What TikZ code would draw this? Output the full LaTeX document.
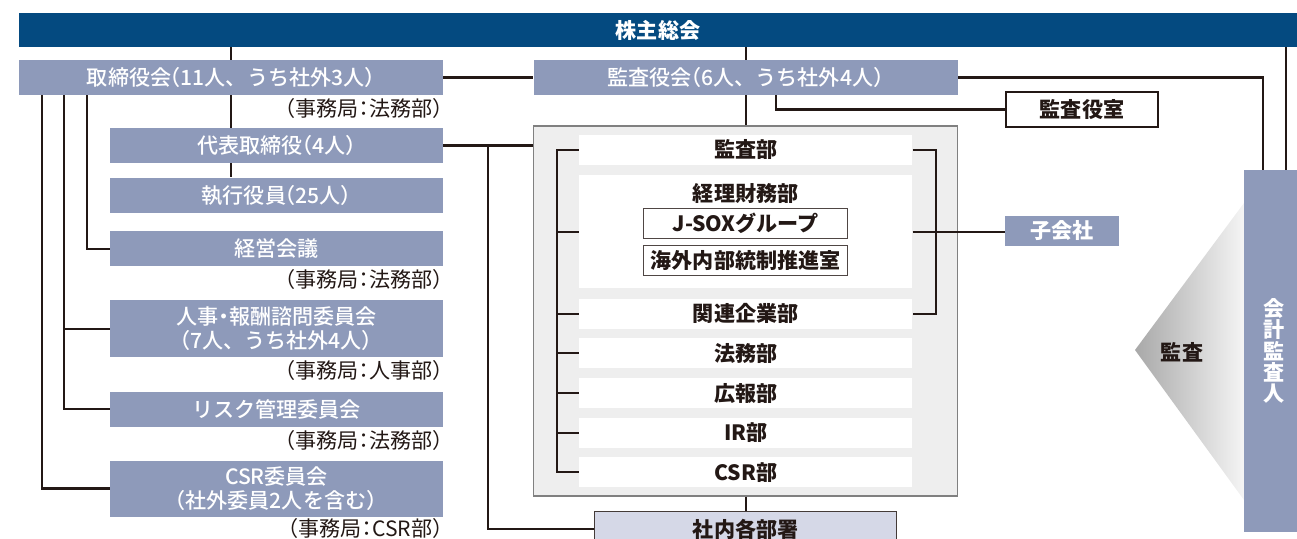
\documentclass[tikz,border=0pt]{standalone}
\usepackage{fontspec}
\setmainfont{Noto Sans CJK JP}
\newfontfamily\jpmed{Noto Sans CJK JP Medium}
\usepackage{tikz}
\usetikzlibrary{positioning}
\definecolor{topblue}{RGB}{4,74,128}
\definecolor{boxblue}{RGB}{142,154,186}
\definecolor{panelgray}{RGB}{238,238,238}
\definecolor{panelline}{RGB}{128,128,128}
\definecolor{lavender}{RGB}{213,216,231}
\definecolor{inkblack}{RGB}{35,24,21}
\newcommand{\jlp}{\kern-.55em （}
\newcommand{\jrp}{）\kern-.5em}
\newcommand{\jcolon}{\kern-.25em：\kern-.25em}
\newcommand{\jdot}{\kern-.25em・\kern-.25em}
\tikzset{
  topbar/.style={fill=topblue, text=white, font=\bfseries, minimum width=25.56cm, minimum height=6.8mm, inner sep=0pt},
  bluebox/.style={fill=boxblue, text=white, font=\jpmed, minimum height=7mm, inner sep=0pt, align=center},
  leftbox/.style={bluebox, minimum width=66.6mm},
  note/.style={text=inkblack, inner sep=0pt, text height=9.5pt, text depth=2.5pt},
  panel/.style={fill=panelgray, draw=panelline, line width=0.7pt, minimum width=84.8mm, minimum height=74mm, inner sep=0pt},
  dept/.style={fill=white, text=inkblack, font=\bfseries, minimum width=66.6mm, minimum height=6mm, inner sep=0pt},
  subbox/.style={fill=white, draw=inkblack!80, line width=0.6pt, text=inkblack, font=\bfseries, minimum width=40.8mm, minimum height=6mm, inner sep=0pt},
  whitebox/.style={fill=white, draw=inkblack, line width=0.8pt, text=inkblack, font=\bfseries, minimum width=30.4mm, minimum height=7mm, inner sep=0pt},
  conn/.style={draw=inkblack, line width=1.2pt}
}

\begin{document}
\begin{tikzpicture}
\fontsize{12}{14}\selectfont
\useasboundingbox (0,0) rectangle (25.94,-10.76);
% top row
\node[topbar] (kabu) at (13.16,-0.60) {株主総会};
\node[bluebox, minimum width=84.8mm] (tori) at (4.62,-1.55) {取締役会\jlp 11人、うち社外3人\jrp};
\node[bluebox, minimum width=84.8mm, right=18mm of tori] (kansayaku) {監査役会\jlp 6人、うち社外4人\jrp};
% left column
\node[leftbox] (daihyo) at (5.53,-2.91) {代表取締役\jlp 4人\jrp};
\node[leftbox, below=2.8mm of daihyo] (shikko) {執行役員\jlp 25人\jrp};
\node[leftbox, below=3.6mm of shikko] (keiei) {経営会議};
\node[leftbox, minimum height=11.4mm, below=6.6mm of keiei] (jinji) {人事\jdot 報酬諮問委員会\\\jlp 7人、うち社外4人\jrp};
\node[leftbox, below=6.8mm of jinji] (risk) {リスク管理委員会};
\node[leftbox, minimum height=11.2mm, below=6.6mm of risk] (csriin) {CSR委員会\\\jlp 社外委員2人を含む\jrp};
\node[note, below left=0.8mm and 0mm of tori.south east] (n1) {\jlp 事務局\jcolon 法務部\jrp};
\node[note, below left=0.8mm and 0mm of keiei.south east] (n2) {\jlp 事務局\jcolon 法務部\jrp};
\node[note, below left=0.8mm and 0mm of jinji.south east] (n3) {\jlp 事務局\jcolon 人事部\jrp};
\node[note, below left=0.8mm and 0mm of risk.south east] (n4) {\jlp 事務局\jcolon 法務部\jrp};
\node[note, below left=0.6mm and 0mm of csriin.south east] (n5) {\jlp 事務局\jcolon CSR部\jrp};
% audit side
\node[panel, below=6mm of kansayaku] (panel) {};
\node[dept, below=1.8mm of panel.north] (kansabu) {監査部};
\node[dept, minimum height=22.6mm, below=2mm of kansabu] (keiri) {};
\node[text=inkblack, font=\bfseries, inner sep=0pt, below=1.6mm of keiri.north] (keiritxt) {経理財務部};
\node[subbox, below=6.6mm of keiri.north] (jsox) {J-SOXグループ};
\node[subbox, below=1.2mm of jsox] (kaigai) {海外内部統制推進室};
\node[dept, below=1.9mm of keiri] (kanren) {関連企業部};
\node[dept, below=1.8mm of kanren] (homu) {法務部};
\node[dept, below=1.8mm of homu] (koho) {広報部};
\node[dept, below=1.8mm of koho] (ir) {IR部};
\node[dept, below=1.8mm of ir] (csrbu) {CSR部};
\node[fill=lavender, draw=inkblack!85, line width=0.8pt, text=inkblack, font=\bfseries, minimum width=60.4mm, minimum height=7.2mm, inner sep=0pt, below=2.8mm of panel] (shanai) {社内各部署};
\node[whitebox] (shitsu) at (21.64,-2.19) {監査役室};
\node[bluebox, font=\bfseries, minimum width=22.8mm, minimum height=6mm] (kogaisha) at (21.24,-4.62) {子会社};
\shade[left color=gray!68, right color=gray!8] (22.70,-7.00) -- (24.88,-4.06) -- (24.88,-10.00) -- cycle;
\node[bluebox, minimum width=12mm, minimum height=72.4mm, font=\bfseries\fontsize{12}{12}\selectfont] (kaikei) at (25.48,-7.02) {会\\計\\監\\査\\人};
\node[text=inkblack, font=\bfseries] (kansa) at (23.64,-7.04) {監査};
% connectors
\coordinate (lx1) at ([xshift=4.6mm]tori.south west);
\coordinate (lx2) at ([xshift=9mm]tori.south west);
\coordinate (lx3) at ([xshift=13.6mm]tori.south west);
\coordinate (hub) at ([xshift=9mm]daihyo.east);
\coordinate (kaikeiL) at ([xshift=-2.2mm]kaikei.north);
\coordinate (kaikeiR) at ([xshift=2.4mm]kaikei.north);
\coordinate (bl) at ([xshift=-4.4mm]kansabu.west);
\coordinate (br) at ([xshift=4.6mm]kansabu.east);
\draw[conn] (tori.north) -- (tori.north |- kabu.south);
\draw[conn] (tori.south) -- (tori.south |- daihyo.north);
\draw[conn] (tori.south |- daihyo.south) -- (tori.south |- shikko.north);
\draw[conn] (tori) -- (kansayaku);
\draw[conn] (kansayaku.north) -- (kansayaku.north |- kabu.south);
\draw[conn] (kansayaku) -- (panel);
\draw[conn] (panel) -- (shanai);
\draw[conn] (kansayaku.east) -| (kaikeiL);
\draw[conn] (kaikeiR) -- (kaikeiR |- kabu.south);
\draw[conn] ([xshift=6mm]kansayaku.south) |- (shitsu.west);
\draw[conn] (daihyo.east) -- (daihyo.east -| panel.west);
\draw[conn] (hub) |- (shanai.west);
\draw[conn] (lx1) |- (csriin.west);
\draw[conn] (lx2) |- (risk.west);
\draw[conn] (jinji.west) -- (jinji.west -| lx2);
\draw[conn] (lx3) |- (keiei.west);
\draw[conn] (kansabu.west) -- (bl) |- (csrbu.west);
\foreach \d in {keiri,kanren,homu,koho,ir}
  \draw[conn] (\d.west) -- (\d.west -| bl);
\draw[conn] (kansabu.east) -- (br) |- (kanren.east);
\draw[conn] (keiri.east) -- (keiri.east -| kogaisha.west);
\end{tikzpicture}
\end{document}
